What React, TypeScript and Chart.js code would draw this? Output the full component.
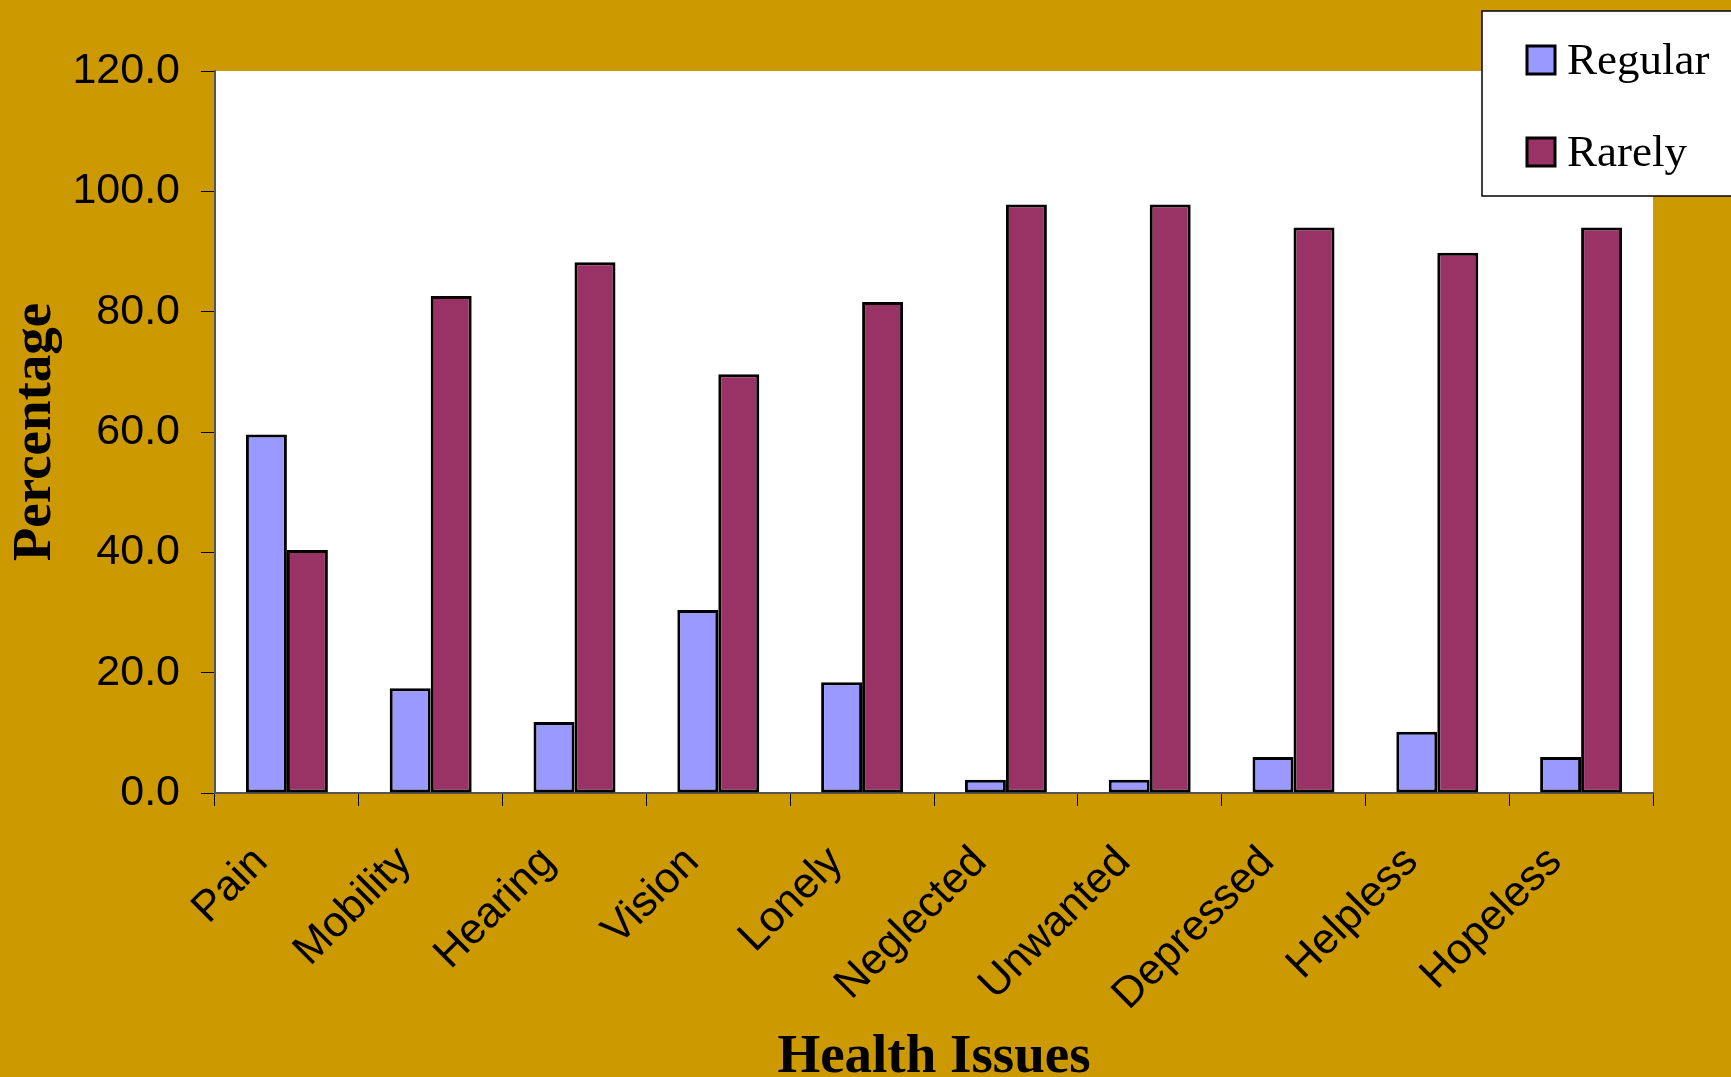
import React, { useEffect, useRef } from "react";
import { Chart, registerables } from "chart.js";

Chart.register(...registerables);

const categories = ["Pain", "Mobility", "Hearing", "Vision", "Lonely", "Neglected", "Unwanted", "Depressed", "Helpless", "Hopeless"];
const regularValues = [59.6, 17.4, 11.8, 30.4, 18.4, 2.2, 2.2, 6.0, 10.2, 6.0];
const rarelyValues = [40.4, 82.6, 88.2, 69.6, 81.6, 97.8, 97.8, 94.0, 89.8, 94.0];
const seriesNames = ["Regular", "Rarely"];
const seriesColors = ["#9999FF", "#993366"];

const W = 1731;
const H = 1077;

const bgPlugin = {
  id: "bgPlugin",
  beforeDraw(chart: any) {
    const ctx = chart.ctx;
    const a = chart.chartArea;
    ctx.save();
    ctx.fillStyle = "#CC9900";
    ctx.fillRect(0, 0, chart.width, chart.height);
    ctx.fillStyle = "#FFFFFF";
    ctx.fillRect(a.left, a.top, a.right - a.left, a.bottom - a.top);
    ctx.restore();
  },
};

const legendPlugin = {
  id: "boxLegend",
  afterDraw(chart: any) {
    const ctx = chart.ctx;
    ctx.save();
    ctx.fillStyle = "#FFFFFF";
    ctx.fillRect(1482, 11, 260, 185);
    ctx.strokeStyle = "#000000";
    ctx.lineWidth = 1.5;
    ctx.strokeRect(1482, 11, 260, 185);
    const rows = [46, 138];
    chart.data.datasets.forEach((ds: any, i: number) => {
      const y = rows[i];
      ctx.fillStyle = ds.backgroundColor;
      ctx.fillRect(1527, y, 28, 28);
      ctx.strokeStyle = "#000000";
      ctx.lineWidth = 3;
      ctx.strokeRect(1527, y, 28, 28);
      ctx.fillStyle = "#000000";
      ctx.font = '45px "Liberation Serif", "Times New Roman", serif';
      ctx.textAlign = "left";
      ctx.textBaseline = "alphabetic";
      ctx.fillText(ds.label, 1567, y + 28);
    });
    ctx.restore();
  },
};

export default function App() {
  const ref = useRef<HTMLCanvasElement | null>(null);

  useEffect(() => {
    if (!ref.current) return;
    const chart = new Chart(ref.current, {
      type: "bar",
      data: {
        labels: categories,
        datasets: [
          {
            label: seriesNames[0],
            data: regularValues,
            backgroundColor: seriesColors[0],
            borderColor: "#000000",
            borderWidth: 3,
            borderSkipped: false,
            categoryPercentage: 0.57,
            barPercentage: 1.0,
          },
          {
            label: seriesNames[1],
            data: rarelyValues,
            backgroundColor: seriesColors[1],
            borderColor: "#000000",
            borderWidth: 3,
            borderSkipped: false,
            categoryPercentage: 0.57,
            barPercentage: 1.0,
          },
        ],
      },
      options: {
        animation: false,
        responsive: false,
        devicePixelRatio: 1,
        layout: { padding: { top: 71, right: 78, left: 0, bottom: 0 } },
        plugins: {
          legend: { display: false },
          tooltip: { enabled: false },
        },
        scales: {
          x: {
            offset: true,
            grid: {
              offset: true,
              drawOnChartArea: false,
              drawTicks: true,
              tickLength: 13,
              color: "#000000",
              lineWidth: 1,
            },
            border: { display: true, color: "#555555", width: 2 },
            ticks: {
              color: "#000000",
              font: { family: '"Liberation Sans", Arial, sans-serif', size: 43 },
              maxRotation: 45,
              minRotation: 45,
              padding: 31,
              labelOffset: -26,
              autoSkip: false,
            },
            title: {
              display: true,
              text: "Health Issues",
              color: "#000000",
              font: { family: '"Liberation Serif", "Times New Roman", serif', size: 55, weight: "bold", lineHeight: 0.7 },
              padding: { top: 0, bottom: 0 },
            },
            afterFit(scale: any) {
              scale.height = 284;
            },
          },
          y: {
            min: 0,
            max: 120,
            grid: {
              drawOnChartArea: false,
              drawTicks: true,
              tickLength: 14,
              color: "#000000",
              lineWidth: 1,
            },
            border: { display: true, color: "#555555", width: 2 },
            ticks: {
              stepSize: 20,
              color: "#000000",
              padding: 21,
              font: { family: '"Liberation Sans", Arial, sans-serif', size: 43 },
              callback: (v: any) => Number(v).toFixed(1),
            },
            title: {
              display: true,
              text: "Percentage",
              color: "#000000",
              font: { family: '"Liberation Serif", "Times New Roman", serif', size: 55, weight: "bold", lineHeight: 1.3 },
              padding: { top: 0, bottom: 0 },
            },
            afterFit(scale: any) {
              scale.width = 215;
            },
          },
        },
      },
      plugins: [bgPlugin, legendPlugin],
    });
    return () => chart.destroy();
  }, []);

  return (
    <div style={{ position: "fixed", left: 0, top: 0, width: W, height: H, background: "#CC9900" }}>
      <canvas ref={ref} width={W} height={H} style={{ width: W, height: H, display: "block" }} />
    </div>
  );
}
